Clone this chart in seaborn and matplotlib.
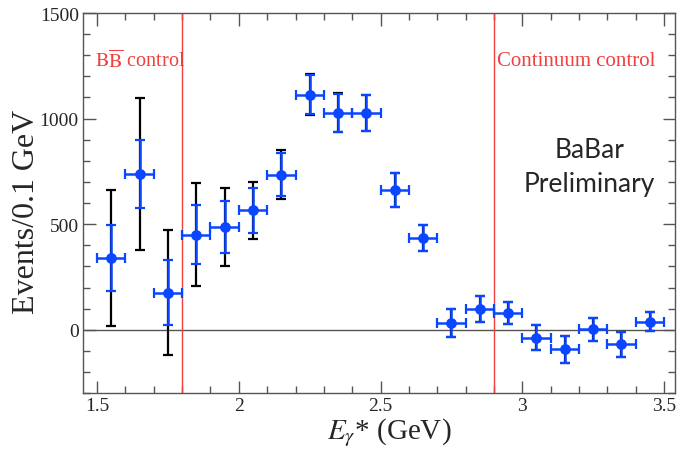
import numpy as np
import pandas as pd
import matplotlib
matplotlib.use("Agg")
import matplotlib.pyplot as plt
import seaborn as sns
from matplotlib.ticker import MultipleLocator

# photon energy bins (GeV), 0.1 GeV wide
e_gamma = [1.55, 1.65, 1.75, 1.85, 1.95, 2.05, 2.15, 2.25, 2.35, 2.45,
           2.55, 2.65, 2.75, 2.85, 2.95, 3.05, 3.15, 3.25, 3.35, 3.45]
events = [340, 738, 176, 451, 488, 565, 735, 1114, 1028, 1028,
          662, 436, 32, 99, 79, -38, -93, 3, -68, 39]
stat_err = [158, 163, 154, 140, 123, 107, 100, 93, 90, 85,
            80, 62, 65, 62, 53, 59, 64, 55, 59, 44]
total_err = [322, 359, 297, 242, 185, 137, 115, 95, 92, 85,
             80, 62, 65, 62, 53, 59, 64, 55, 59, 44]
bin_half = 0.05

bb_cut = 1.8
cont_cut = 2.9

df = pd.DataFrame({"E": e_gamma, "N": events, "stat": stat_err, "tot": total_err})

sns.set_style("ticks")
plt.rcParams["font.family"] = ["Liberation Serif", "DejaVu Serif"]
plt.rcParams["mathtext.fontset"] = "stix"

fig, ax = plt.subplots(figsize=(6.8, 4.52), dpi=100)
fig.subplots_adjust(left=0.122, right=0.993, top=0.969, bottom=0.128)

blue = "#0a46ff"

ax.axhline(0, color="#555555", lw=1.0, zorder=1)
ax.axvline(bb_cut, color="#f04040", lw=1.0, zorder=1)
ax.axvline(cont_cut, color="#f04040", lw=1.0, zorder=1)

# total (stat + syst) errors
ax.errorbar(df["E"], df["N"], yerr=df["tot"], fmt="none", ecolor="black",
            elinewidth=1.6, capsize=3.5, capthick=1.6, zorder=2)
# statistical errors and bin widths
ax.errorbar(df["E"], df["N"], yerr=df["stat"], xerr=bin_half, fmt="none",
            ecolor=blue, elinewidth=1.8, capsize=3.5, capthick=1.6, zorder=3)
sns.scatterplot(data=df, x="E", y="N", color=blue, s=60, edgecolor=blue,
                linewidth=0, zorder=4, ax=ax)

ax.set_xlim(1.45, 3.54)
ax.set_ylim(-300, 1500)
ax.xaxis.set_major_locator(MultipleLocator(0.5))
ax.xaxis.set_minor_locator(MultipleLocator(0.1))
ax.yaxis.set_major_locator(MultipleLocator(500))
ax.yaxis.set_minor_locator(MultipleLocator(100))
ax.xaxis.set_major_formatter(matplotlib.ticker.FuncFormatter(lambda v, p: ("%g" % v)))
ax.tick_params(which="both", direction="in", top=True, right=True, color="#555555")
ax.tick_params(which="major", length=9, width=1.0, labelsize=14, pad=3)
ax.tick_params(which="minor", length=5, width=1.0)
for s in ax.spines.values():
    s.set_color("#555555")
    s.set_linewidth(1.0)

ax.set_xlabel(r"$E_{\gamma}$* (GeV)", fontsize=21)
ax.xaxis.set_label_coords(0.517, -0.058, transform=ax.transAxes)
ax.xaxis.label.set_va("top")
ax.set_ylabel("Events/0.1 GeV", fontsize=23)
ax.yaxis.set_label_coords(-0.071, 0.48, transform=ax.transAxes)

ax.text(0.02, 0.874, r"$\mathrm{B}\overline{\mathrm{B}}$ control", transform=ax.transAxes,
        color="#f04040", fontsize=14.5, ha="left", va="center")
ax.text(2.91, 0.874, "Continuum control", transform=ax.get_xaxis_transform(),
        color="#f04040", fontsize=15, ha="left", va="center")
ax.text(0.855, 0.595, "BaBar\nPreliminary", transform=ax.transAxes,
        fontfamily="Lato", fontsize=19, ha="center", va="center",
        linespacing=1.45)

fig.savefig("out.png", dpi=100)
